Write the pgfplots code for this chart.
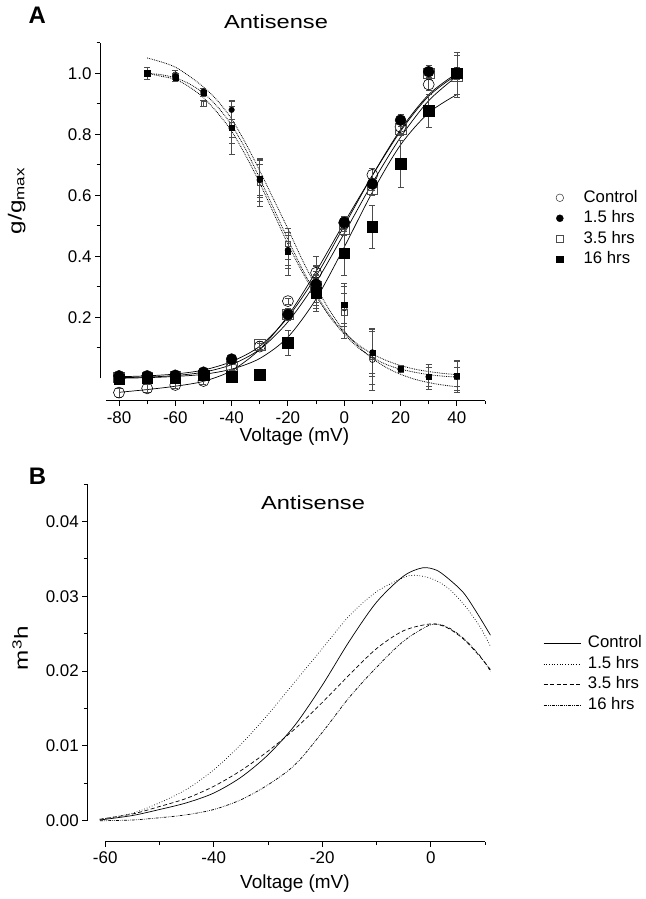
\documentclass[border=0pt]{standalone}
\usepackage{pgfplots}
\pgfplotsset{compat=1.18}
\usepackage{fontspec}
\setmainfont{Liberation Sans}
\newcommand{\fsz}[1]{\fontsize{#1}{#1}\selectfont}
\pgfplotsset{
  myaxis/.style={
    scale only axis, clip=false,
    axis x line*=bottom, axis y line*=left,
    axis line style={draw=none},
    tick align=outside,
    major tick length=5bp, minor tick length=3.5bp,
    every tick/.style={black, line width=0.9bp},
    tick label style={font=\fsz{17}},
    label style={font=\fsz{19}},
    /pgf/number format/assume math mode=true,
    scaled ticks=false,
    error bars/error bar style={gray!60!black, line width=0.6bp},
    error bars/error mark options={rotate=90, mark size=3bp, gray!60!black, line width=0.6bp},
  },
}
\begin{document}
\begin{tikzpicture}
\useasboundingbox (0,0) rectangle (646bp,-899bp);
% ---------------- Panel A ----------------
\node[font=\bfseries\fsz{24}] at (37.3bp,-15.3bp) {A};
\node[font=\fsz{19}] at (276bp,-21.7bp) {\scalebox{1.25}[1]{Antisense}};
\begin{axis}[myaxis,
  at={(100bp,-400.7bp)}, anchor=south west,
  width=385bp, height=358bp,
  xmin=-86.75, xmax=50, ymin=-0.0735, ymax=1.10,
  xtick={-80,-60,-40,-20,0,20,40},
  minor xtick={-70,-50,-30,-10,10,30,50},
  ytick={0.2,0.4,0.6,0.8,1.0},
  minor ytick={0.1,0.3,0.5,0.7,0.9,1.1},
  yticklabel style={/pgf/number format/.cd, fixed, fixed zerofill, precision=1},
  xticklabel style={yshift=-2bp},
  xlabel={Voltage (mV)},
  xlabel style={at={(axis description cs:0.505,-0.10)}, anchor=center},
  ylabel={\scalebox{1.28}[1]{g/g\textsubscript{max}}},
  ylabel style={at={(axis description cs:-0.216,0.558)}, anchor=center},
  legend style={draw=none, fill=none, at={(axis description cs:1.184,0.589)}, anchor=north west,
    inner sep=0pt, row sep=5bp, column sep=20bp,
    nodes={inner sep=0pt, text height=12bp, text depth=3.5bp}, font=\fsz{16.8}},
  legend cell align=left,
  legend image code/.code={\draw[mark repeat=2, mark phase=2, #1] plot coordinates {(0bp,0bp) (4bp,0bp) (8bp,0bp)};},
]
\draw[line width=0.9bp] (axis cs:-84.6,-0.0735) -- (axis cs:50,-0.0735);
\draw[line width=0.9bp] (axis cs:-86.75,0) -- (axis cs:-86.75,1.1);
\addlegendimage{only marks, mark=o, mark size=3.8bp, mark options={black!80, line width=0.5bp}}
\addlegendentry{Control}
\addlegendimage{only marks, mark=*, mark size=3.5bp, mark options={black}}
\addlegendentry{1.5 hrs}
\addlegendimage{only marks, mark=square, mark size=3.2bp, mark options={black!70, line width=0.5bp}}
\addlegendentry{3.5 hrs}
\addlegendimage{only marks, mark=square*, mark size=3.2bp, mark options={black}}
\addlegendentry{16 hrs}
% inactivation fits (dotted)
\addplot[forget plot, densely dotted, line width=0.8bp, smooth] coordinates {
(-70,1.05) (-65,1.037) (-60,1.02) (-55,0.99) (-50,0.955) (-45,0.91) (-40,0.85) (-35,0.77)
(-30,0.68) (-25,0.585) (-20,0.49) (-15,0.39) (-10,0.30) (-5,0.22) (0,0.155) (5,0.105)
(10,0.065) (15,0.035) (20,0.013) (25,-0.003) (30,-0.014) (35,-0.022) (40,-0.028)};
\addplot[forget plot, densely dotted, line width=0.8bp, smooth] coordinates {
(-70,1.0) (-65,0.995) (-60,0.985) (-55,0.965) (-50,0.935) (-45,0.89) (-40,0.83) (-35,0.75)
(-30,0.655) (-25,0.555) (-20,0.455) (-15,0.36) (-10,0.275) (-5,0.205) (0,0.15) (5,0.11)
(10,0.08) (15,0.058) (20,0.042) (25,0.03) (30,0.022) (35,0.016) (40,0.012)};
\addplot[forget plot, densely dotted, line width=0.8bp, smooth] coordinates {
(-70,1.0) (-65,0.99) (-60,0.98) (-55,0.955) (-50,0.92) (-45,0.87) (-40,0.81) (-35,0.73)
(-30,0.64) (-25,0.54) (-20,0.44) (-15,0.35) (-10,0.27) (-5,0.20) (0,0.145) (5,0.10)
(10,0.068) (15,0.045) (20,0.03) (25,0.02) (30,0.012) (35,0.007) (40,0.004)};
% activation fits (solid)
\addplot[forget plot, black, line width=0.7bp, smooth] coordinates {
(-80,-0.046) (-70,-0.037) (-60,-0.026) (-50,-0.01) (-40,0.025) (-30,0.095) (-20,0.205)
(-10,0.35) (0,0.51) (10,0.665) (20,0.81) (30,0.925) (40,0.995)};
\addplot[forget plot, black, line width=0.7bp, smooth] coordinates {
(-80,0.005) (-70,0.008) (-60,0.014) (-50,0.027) (-40,0.055) (-30,0.105) (-20,0.2)
(-10,0.335) (0,0.5) (10,0.665) (20,0.815) (30,0.93) (40,1.0)};
\addplot[forget plot, black, line width=0.7bp, smooth] coordinates {
(-80,0.002) (-70,0.004) (-60,0.009) (-50,0.02) (-40,0.045) (-30,0.095) (-20,0.185)
(-10,0.315) (0,0.475) (10,0.64) (20,0.79) (30,0.91) (40,0.99)};
\addplot[forget plot, black, line width=0.7bp, smooth] coordinates {
(-80,0.0) (-70,0.002) (-60,0.006) (-50,0.013) (-40,0.03) (-30,0.065) (-20,0.135)
(-10,0.26) (0,0.43) (10,0.61) (20,0.765) (30,0.87) (40,0.93)};
% inactivation data (small markers)
\addplot[forget plot, only marks, mark=o, mark size=2.8bp, mark options={black, line width=0.6bp},
  error bars/.cd, y dir=both, y explicit] coordinates {
(-70,1.0) +- (0,0.02) (-60,0.995) +- (0,0.015) (-50,0.935) +- (0,0.01) (-40,0.82) +- (0,0.03)
(-30,0.65) +- (0,0.05) (-20,0.42) +- (0,0.05) (-10,0.30) +- (0,0.05) (0,0.23) +- (0,0.05)
(10,0.061) +- (0,0.099) (20,0.03) +- (0,0.01) (30,0.005) +- (0,0.03) (40,0.005) +- (0,0.03)};
\addplot[forget plot, only marks, mark=square, mark size=2.6bp, mark options={black!70, line width=0.6bp},
  error bars/.cd, y dir=both, y explicit] coordinates {
(-70,1.0) +- (0,0.02) (-60,0.99) +- (0,0.01) (-50,0.90) +- (0,0.01) (-40,0.83) +- (0,0.06)
(-30,0.64) +- (0,0.077) (-20,0.44) +- (0,0.05) (-10,0.32) +- (0,0.08) (0,0.216) +- (0,0.084)
(10,0.07) +- (0,0.09) (20,0.03) +- (0,0.01) (30,0.005) +- (0,0.03) (40,0.005) +- (0,0.03)};
\addplot[forget plot, only marks, mark=*, mark size=2.8bp, mark options={black},
  error bars/.cd, y dir=both, y explicit] coordinates {
(-70,1.0) +- (0,0.02) (-60,0.99) +- (0,0.01) (-50,0.94) +- (0,0.01) (-40,0.88) +- (0,0.03)
(-30,0.65) +- (0,0.07) (-20,0.42) +- (0,0.06) (-10,0.30) +- (0,0.07) (0,0.24) +- (0,0.06)
(10,0.085) +- (0,0.07) (20,0.03) +- (0,0.01) (30,0.005) +- (0,0.04) (40,0.005) +- (0,0.05)};
\addplot[forget plot, only marks, mark=square*, mark size=2.6bp, mark options={black},
  error bars/.cd, y dir=both, y explicit] coordinates {
(-70,1.0) +- (0,0.02) (-60,0.985) +- (0,0.01) (-50,0.935) +- (0,0.01) (-40,0.822) +- (0,0.087)
(-30,0.654) +- (0,0.06) (-20,0.415) +- (0,0.077) (-10,0.28) +- (0,0.06) (0,0.24) +- (0,0.07)
(10,0.085) +- (0,0.08) (20,0.031) +- (0,0.01) (30,0.005) +- (0,0.04) (40,0.009) +- (0,0.05)};
% activation data (big markers)
\addplot[forget plot, only marks, mark=o, mark size=5.5bp, mark options={black, line width=0.6bp},
  error bars/.cd, y dir=both, y explicit] coordinates {
(-80,-0.047) +- (0,0.015) (-70,-0.033) +- (0,0.012) (-60,-0.022) +- (0,0.01) (-50,-0.009) +- (0,0.01)
(-40,0.035) +- (0,0.01) (-30,0.104) +- (0,0.01) (-20,0.253) +- (0,0.01) (-10,0.346) +- (0,0.02)
(0,0.509) +- (0,0.02) (10,0.667) +- (0,0.02) (20,0.824) +- (0,0.02) (30,0.963) +- (0,0.02) (40,1.0) +- (0,0.02)};
\addplot[forget plot, only marks, mark=square, mark size=5.3bp, mark options={black!70, line width=0.6bp},
  error bars/.cd, y dir=both, y explicit] coordinates {
(-80,0.003) +- (0,0.01) (-70,0.003) +- (0,0.01) (-60,0.005) +- (0,0.01) (-50,0.01) +- (0,0.01)
(-40,0.039) +- (0,0.01) (-30,0.11) +- (0,0.01) (-20,0.21) +- (0,0.02) (-10,0.30) +- (0,0.03)
(0,0.49) +- (0,0.02) (10,0.62) +- (0,0.02) (20,0.818) +- (0,0.02) (30,1.0) +- (0,0.02) (40,0.99) +- (0,0.068)};
\addplot[forget plot, only marks, mark=*, mark size=5.5bp, mark options={black},
  error bars/.cd, y dir=both, y explicit] coordinates {
(-80,0.008) +- (0,0.01) (-70,0.008) +- (0,0.01) (-60,0.01) +- (0,0.01) (-50,0.02) +- (0,0.01)
(-40,0.063) +- (0,0.01) (-30,0.011) +- (0,0.01) (-20,0.209) +- (0,0.02) (-10,0.308) +- (0,0.03)
(0,0.511) +- (0,0.02) (10,0.637) +- (0,0.02) (20,0.846) +- (0,0.02) (30,1.005) +- (0,0.02) (40,1.0) +- (0,0.02)};
\addplot[forget plot, only marks, mark=square*, mark size=5.3bp, mark options={black},
  error bars/.cd, y dir=both, y explicit] coordinates {
(-80,-0.003) +- (0,0.01) (-70,0.0) +- (0,0.01) (-60,0.0) +- (0,0.01) (-50,0.01) +- (0,0.01)
(-40,0.006) +- (0,0.01) (-30,0.011) +- (0,0.01) (-20,0.116) +- (0,0.04) (-10,0.28) +- (0,0.03)
(0,0.41) +- (0,0.072) (10,0.497) +- (0,0.07) (20,0.703) +- (0,0.078) (30,0.877) +- (0,0.055) (40,1.0) +- (0,0.068)};
\end{axis}
% ---------------- Panel B ----------------
\node[font=\bfseries\fsz{24}] at (37.5bp,-476bp) {B};
\begin{axis}[myaxis,
  at={(87.3bp,-841.7bp)}, anchor=south west,
  width=397.7bp, height=357.7bp,
  xmin=-63.3, xmax=10, ymin=-0.0028, ymax=0.045,
  xtick={-60,-40,-20,0},
  minor xtick={-50,-30,-10,10},
  ytick={0,0.01,0.02,0.03,0.04},
  minor ytick={0.005,0.015,0.025,0.035,0.045},
  yticklabel style={/pgf/number format/.cd, fixed, fixed zerofill, precision=2},
  xticklabel style={yshift=-1bp},
  xlabel={Voltage (mV)},
  xlabel style={at={(axis description cs:0.522,-0.117)}, anchor=center},
  ylabel={\scalebox{1.28}[1]{m\textsuperscript{3}h}},
  ylabel style={at={(axis description cs:-0.169,0.541)}, anchor=center},
  legend style={draw=none, fill=none, at={(axis description cs:1.146,0.576)}, anchor=north west,
    inner sep=0pt, row sep=5bp, column sep=7bp,
    nodes={inner sep=0pt, text height=12bp, text depth=3.5bp}, font=\fsz{16.8}},
  legend cell align=left,
  legend image code/.code={\draw[#1] (0bp,0bp) -- (37bp,0bp);},
]
\draw[line width=0.9bp] (axis cs:-60,-0.0028) -- (axis cs:10,-0.0028);
\draw[line width=0.9bp] (axis cs:-63.3,0) -- (axis cs:-63.3,0.045);
\node[font=\fsz{19}] at (axis cs:-21.7,0.0425) {\scalebox{1.25}[1]{Antisense}};
\addplot[black, line width=0.7bp, smooth] coordinates {
(-61,0.0001) (-55,0.0007) (-50,0.0015) (-45,0.0024) (-40,0.0037) (-35,0.0058) (-30,0.0088)
(-25,0.0128) (-20,0.0181) (-15,0.0240) (-10,0.0292) (-5,0.0327) (-1.5,0.0338) (1,0.0335)
(3,0.0325) (6,0.0305) (8.5,0.0278) (11,0.0248)};
\addlegendentry{Control}
\addplot[black, line width=0.7bp, dotted, smooth] coordinates {
(-61,0.0002) (-55,0.0010) (-50,0.0024) (-45,0.0042) (-40,0.0068) (-35,0.0102) (-30,0.0142)
(-25,0.0186) (-20,0.0230) (-15,0.0274) (-10,0.0306) (-5,0.0325) (-3,0.0328) (0,0.0324)
(3,0.0312) (6,0.0290) (9,0.0260) (11,0.0233)};
\addlegendentry{1.5 hrs}
\addplot[black, line width=0.7bp, dash pattern=on 4bp off 2.5bp, smooth] coordinates {
(-61,0.0002) (-55,0.0009) (-50,0.0019) (-45,0.0030) (-40,0.0046) (-35,0.0067) (-30,0.0093)
(-25,0.0123) (-20,0.0158) (-15,0.0195) (-10,0.0230) (-5,0.0254) (0,0.0263) (3,0.0258)
(6,0.0243) (9,0.0220) (11,0.0202)};
\addlegendentry{3.5 hrs}
\addplot[black, line width=0.7bp, dash pattern=on 3bp off 1.2bp on 0.7bp off 1.2bp on 0.7bp off 1.2bp, smooth] coordinates {
(-61,0.0) (-55,0.0001) (-50,0.0004) (-45,0.0008) (-40,0.0015) (-35,0.0028) (-30,0.0048)
(-25,0.0075) (-20,0.0118) (-15,0.0165) (-10,0.0205) (-5,0.0240) (0,0.0262) (3,0.0259)
(6,0.0244) (9,0.0221) (11,0.0200)};
\addlegendentry{16 hrs}
\end{axis}
\end{tikzpicture}
\end{document}
